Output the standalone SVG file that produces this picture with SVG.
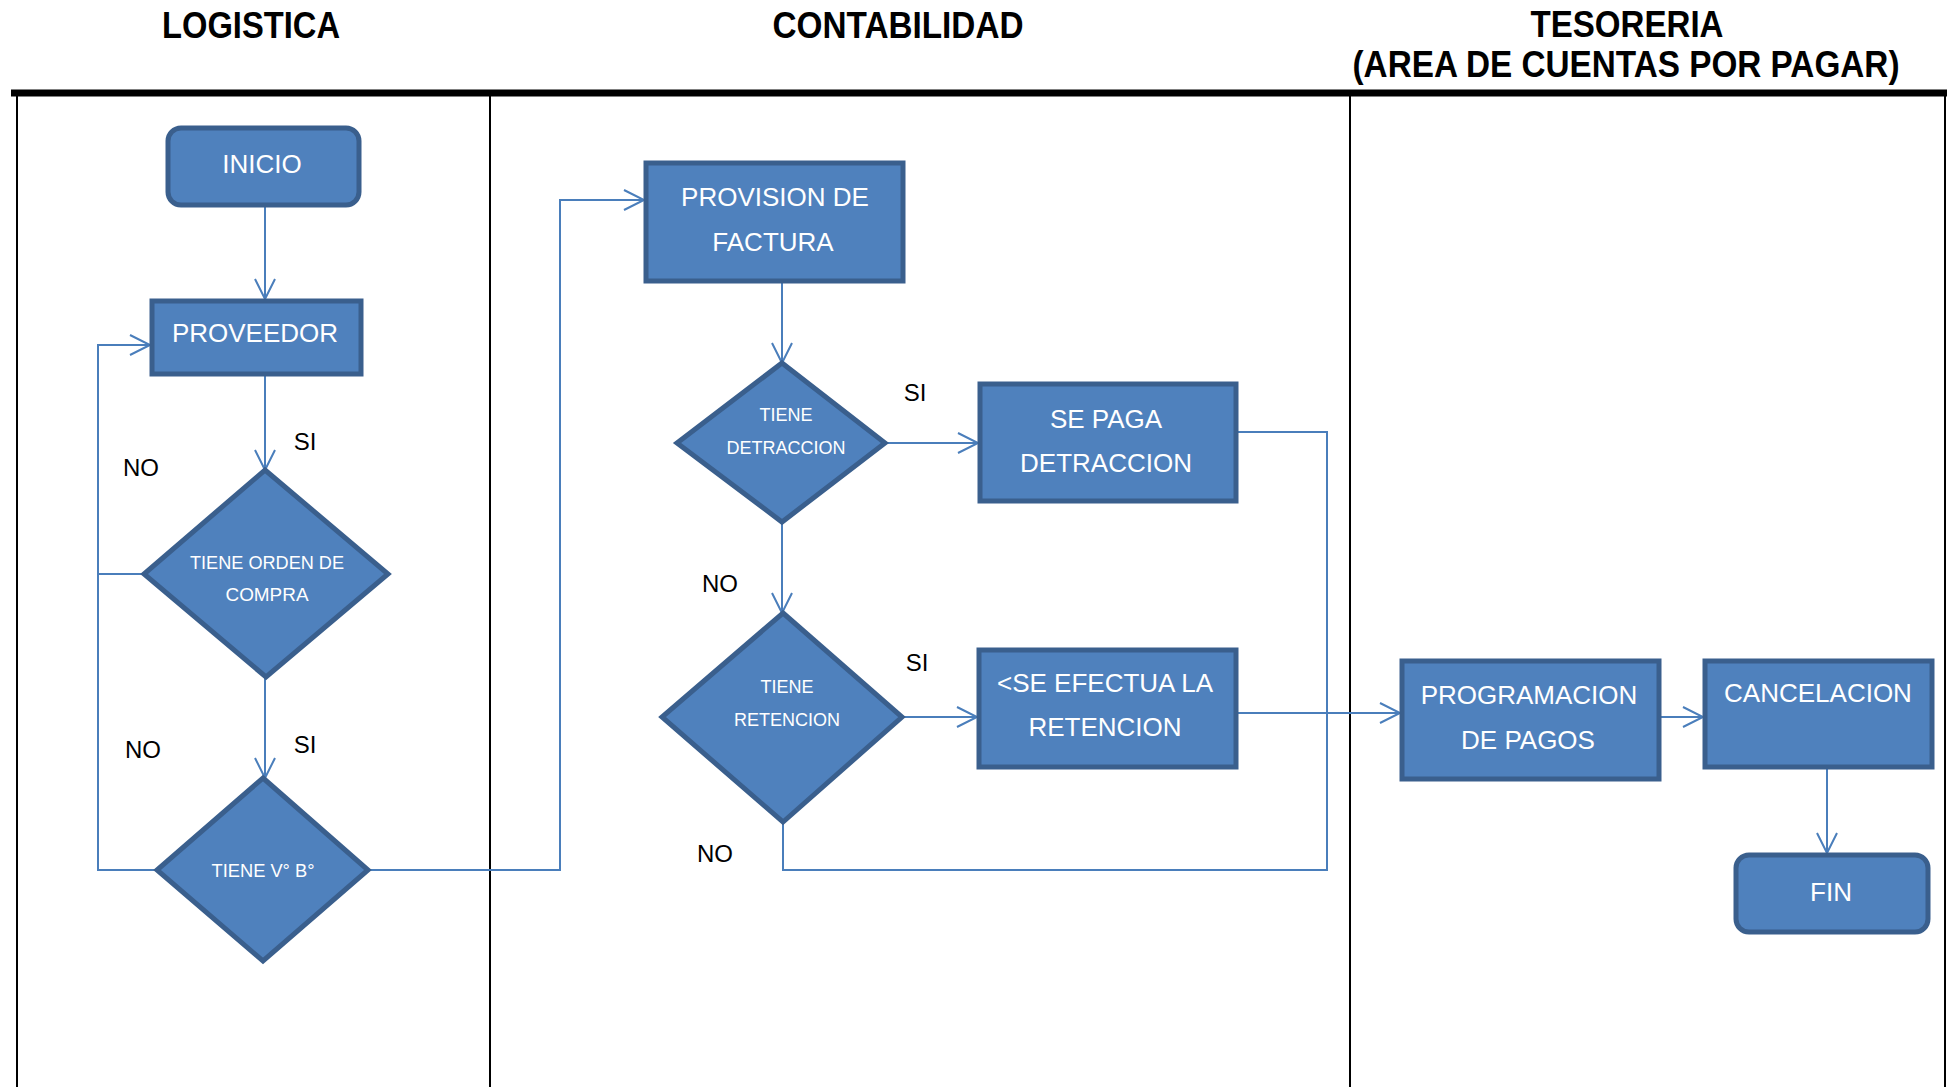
<svg xmlns="http://www.w3.org/2000/svg" width="1948" height="1087" viewBox="0 0 1948 1087">
<style>
.lane{stroke:#000;stroke-width:2;fill:none}
.title{font-family:"Liberation Sans",Arial,sans-serif;font-weight:bold;font-size:36px;fill:#000;text-anchor:middle}
.box{fill:#4F81BD;stroke:#3A5F8D;stroke-width:5}
.nt{font-family:"Liberation Sans",Arial,sans-serif;font-size:26px;fill:#fff;text-anchor:middle}
.dt{font-family:"Liberation Sans",Arial,sans-serif;font-size:18px;fill:#fff;text-anchor:middle}
.lbl{font-family:"Liberation Sans",Arial,sans-serif;font-size:24px;fill:#000;text-anchor:middle}
.c{fill:none;stroke:#4A7EBB;stroke-width:2}
.a{marker-end:url(#arr)}
</style>
<defs>
<marker id="arr" markerUnits="userSpaceOnUse" markerWidth="24" markerHeight="24" refX="21" refY="11" orient="auto">
<path d="M1,1 L21,11 L1,21" fill="none" stroke="#4A7EBB" stroke-width="2"/>
</marker>
</defs>
<rect x="0" y="0" width="1948" height="1087" fill="#fff"/>
<g id="lanes">
<line x1="11" y1="93" x2="1947" y2="93" stroke="#000" stroke-width="7"/>
<line class="lane" x1="17" y1="96" x2="17" y2="1087"/>
<line class="lane" x1="490" y1="96" x2="490" y2="1087"/>
<line class="lane" x1="1350" y1="96" x2="1350" y2="1087"/>
<line class="lane" x1="1945" y1="96" x2="1945" y2="1087"/>
<text class="title" x="251" y="38" textLength="178" lengthAdjust="spacingAndGlyphs">LOGISTICA</text>
<text class="title" x="898" y="38" textLength="251" lengthAdjust="spacingAndGlyphs">CONTABILIDAD</text>
<text class="title" x="1627" y="37" textLength="193" lengthAdjust="spacingAndGlyphs">TESORERIA</text>
<text class="title" x="1626" y="77" textLength="547" lengthAdjust="spacingAndGlyphs">(AREA DE CUENTAS POR PAGAR)</text>
</g>
<g id="connectors">
<path class="c a" d="M265,207 V299"/>
<path class="c a" d="M265,376 V470"/>
<path class="c" d="M144,574 H98"/>
<path class="c a" d="M157,870 H98 V345 H150"/>
<path class="c a" d="M265,677 V778"/>
<path class="c a" d="M368,870 H560 V200 H644"/>
<path class="c a" d="M782,283 V363"/>
<path class="c a" d="M885,443 H978"/>
<path class="c a" d="M782,522 V613"/>
<path class="c a" d="M902,717 H977"/>
<path class="c" d="M1238,432 H1327 V870 H783 V822"/>
<path class="c a" d="M1238,713 H1400"/>
<path class="c a" d="M1661,717 H1703"/>
<path class="c a" d="M1827,769 V853"/>
</g>
<g id="labels">
<text class="lbl" x="305" y="450">SI</text>
<text class="lbl" x="141" y="476">NO</text>
<text class="lbl" x="143" y="758">NO</text>
<text class="lbl" x="305" y="753">SI</text>
<text class="lbl" x="915" y="401">SI</text>
<text class="lbl" x="720" y="592">NO</text>
<text class="lbl" x="917" y="671">SI</text>
<text class="lbl" x="715" y="862">NO</text>
</g>
<g id="inicio">
<rect class="box" x="168" y="128" width="191" height="77" rx="13"/>
<text class="nt" x="262" y="173">INICIO</text>
</g>
<g id="proveedor">
<rect class="box" x="152" y="301" width="209" height="73"/>
<text class="nt" x="255" y="342">PROVEEDOR</text>
</g>
<g id="orden-compra">
<polygon class="box" points="265,470 388,574 266,677 144,574"/>
<text class="dt" x="267" y="569" font-size="20" textLength="154" lengthAdjust="spacingAndGlyphs">TIENE ORDEN DE</text>
<text class="dt" x="267" y="601" font-size="20" textLength="83" lengthAdjust="spacingAndGlyphs">COMPRA</text>
</g>
<g id="vobo">
<polygon class="box" points="263,778 368,870 263,961 157,870"/>
<text class="dt" x="263" y="877" font-size="20" textLength="103" lengthAdjust="spacingAndGlyphs">TIENE V° B°</text>
</g>
<g id="provision">
<rect class="box" x="646" y="163" width="257" height="118"/>
<text class="nt" x="775" y="206">PROVISION DE</text>
<text class="nt" x="773" y="251">FACTURA</text>
</g>
<g id="detraccion">
<polygon class="box" points="782,363 885,443 782,522 677,443"/>
<text class="dt" x="786" y="421">TIENE</text>
<text class="dt" x="786" y="454">DETRACCION</text>
</g>
<g id="paga-detraccion">
<rect class="box" x="980" y="384" width="256" height="117"/>
<text class="nt" x="1106" y="428">SE PAGA</text>
<text class="nt" x="1106" y="472">DETRACCION</text>
</g>
<g id="retencion">
<polygon class="box" points="783,613 902,717 783,822 662,717"/>
<text class="dt" x="787" y="693">TIENE</text>
<text class="dt" x="787" y="726">RETENCION</text>
</g>
<g id="efectua-retencion">
<rect class="box" x="979" y="650" width="257" height="117"/>
<text class="nt" x="1105" y="692">&lt;SE EFECTUA LA</text>
<text class="nt" x="1105" y="736">RETENCION</text>
</g>
<g id="programacion">
<rect class="box" x="1402" y="661" width="257" height="118"/>
<text class="nt" x="1529" y="704">PROGRAMACION</text>
<text class="nt" x="1528" y="749">DE PAGOS</text>
</g>
<g id="cancelacion">
<rect class="box" x="1705" y="661" width="227" height="106"/>
<text class="nt" x="1818" y="702">CANCELACION</text>
</g>
<g id="fin">
<rect class="box" x="1736" y="855" width="192" height="77" rx="13"/>
<text class="nt" x="1831" y="901">FIN</text>
</g>
</svg>
